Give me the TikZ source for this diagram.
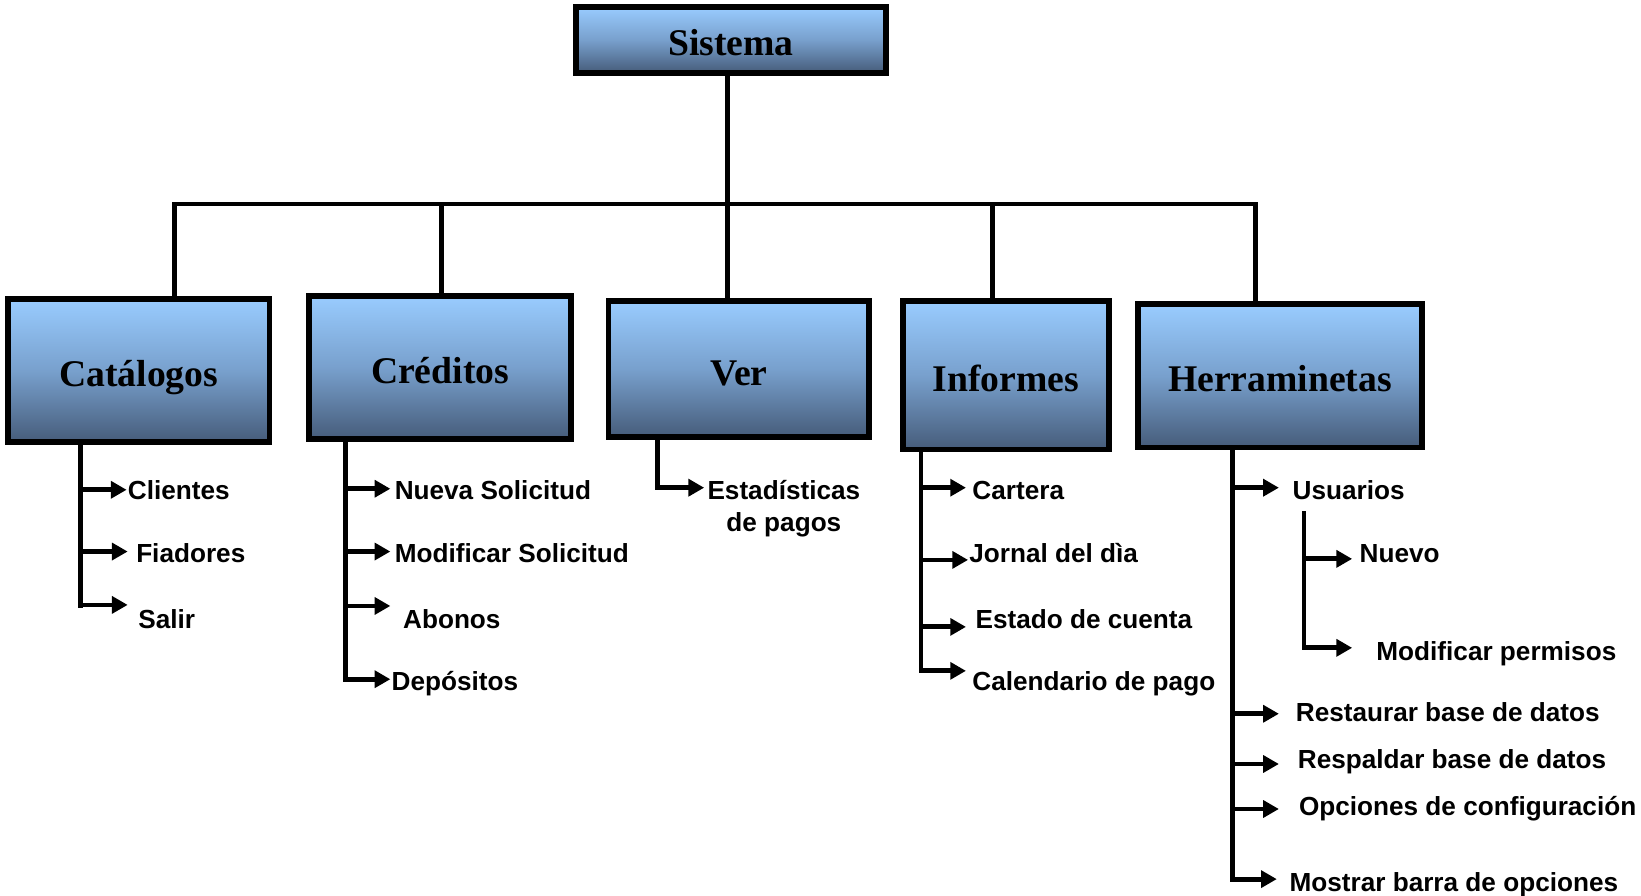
\documentclass[tikz,border=0pt]{standalone}
\usepackage{fontspec}
\setmainfont{Liberation Serif}
\newfontfamily\arialf{Liberation Sans}
\usetikzlibrary{arrows.meta}
\definecolor{btop}{RGB}{153,204,255}
\definecolor{bmid}{RGB}{120,160,205}
\definecolor{bbot}{RGB}{70,92,122}
\newcommand\mychild[7]{%
  \coordinate (#1j) at (#2,#3);
  \node[itemtxt] (#1) at (#4,#5) {#7};
  \draw[arr, shorten >=#6pt] (#1j) -- (#1j -| #1.west);
}
\begin{document}
\begin{tikzpicture}[x=1pt,y=-1pt,
  boxnode/.style={draw=black, line width=5.5pt, top color=btop, bottom color=bbot, middle color=bmid,
    font=\bfseries\fontsize{36}{40}\selectfont, inner sep=0pt, text height=31pt, text depth=0pt},
  ln/.style={line width=4.6pt, line cap=rect},
  arr/.style={line width=4.6pt, -{Triangle[length=15pt,width=16pt]}},
  itemtxt/.style={font=\arialf\bfseries\fontsize{25}{30}\selectfont, anchor=west, inner sep=0pt,
    text height=18pt, text depth=0pt}]
\useasboundingbox (0,0) rectangle (1568,856);

% boxes
\node[boxnode, minimum width=296pt, minimum height=63pt] (sis) at (698.5,38) {Sistema};
\node[boxnode, minimum width=250pt, minimum height=137pt] (cat) at (132.5,354) {Catálogos};
\node[boxnode, minimum width=250pt, minimum height=137pt] (cre) at (420.5,351) {Créditos};
\node[boxnode, minimum width=249pt, minimum height=130pt] (ver) at (706,352.5) {Ver};
\node[boxnode, minimum width=197pt, minimum height=142pt] (inf) at (961,358.5) {Informes};
\node[boxnode, minimum width=271pt, minimum height=137pt] (her) at (1223,359) {Herraminetas};

% top tree
\coordinate (d1) at (167,195);
\coordinate (d2) at (422,195);
\coordinate (d3) at (695,195);
\coordinate (d4) at (948,195);
\coordinate (d5) at (1200,195);
\draw[ln] (sis.south -| d3) -- (d3);
\draw[ln] (d1 |- cat.north) -- (d1) -- (d5) -- (d5 |- her.north);
\draw[ln] (d2) -- (d2 |- cre.north);
\draw[ln] (d3) -- (d3 |- ver.north);
\draw[ln] (d4) -- (d4 |- inf.north);

% Catalogos
\coordinate (catv) at (77,579);
\draw[ln] (cat.south -| catv) -- (catv);
\mychild{cli}{77}{468}{122}{468}{1}{Clientes}
\mychild{fia}{77}{527}{130}{528}{8}{Fiadores}
\mychild{sal}{77}{578}{132}{592}{10}{Salir}

% Creditos
\coordinate (crev) at (330,649);
\draw[ln] (cre.south -| crev) -- (crev);
\mychild{nue}{330}{467}{377}{468}{4}{Nueva Solicitud}
\mychild{mod}{330}{527}{377}{528}{4}{Modificar Solicitud}
\mychild{abo}{330}{579}{385}{592}{12}{Abonos}
\mychild{dep}{330}{649}{374}{651}{1}{Depósitos}

% Ver
\coordinate (verv) at (628,466);
\node[font=\arialf\bfseries\fontsize{25}{30}\selectfont, align=center, anchor=north, inner sep=0pt] (est) at (749,459) {Estadísticas\\de pagos};
\draw[ln] (ver.south -| verv) -- (verv);
\draw[arr, shorten >=3pt] (verv) -- (verv -| est.west);

% Informes
\coordinate (infv) at (880,641);
\draw[ln] (inf.south -| infv) -- (infv);
\mychild{car}{880}{466}{929}{468}{6}{Cartera}
\mychild{jor}{880}{535}{926}{528}{1}{Jornal del dìa}
\mychild{esc}{880}{599}{932}{592}{9}{Estado de cuenta}
\mychild{cal}{880}{641}{929}{651}{6}{Calendario de pago}

% Herramientas
\coordinate (herv) at (1178,840);
\draw[ln] (her.south -| herv) -- (herv);
\mychild{usu}{1178}{466}{1235}{468}{13}{Usuarios}
\coordinate (usv1) at (1246,491);
\coordinate (usv2) at (1246,619);
\draw[ln] (usv1) -- (usv2);
\mychild{nvo}{1246}{534}{1299}{528}{7}{Nuevo}
\mychild{mpe}{1246}{619}{1315}{622}{23}{Modificar permisos}
\mychild{res}{1178}{682}{1238}{680}{16}{Restaurar base de datos}
\mychild{rsp}{1178}{730}{1240}{725}{18}{Respaldar base de datos}
\mychild{opc}{1178}{773}{1241}{770}{19}{Opciones de configuración}
\mychild{mos}{1178}{840}{1232}{843}{12}{Mostrar barra de opciones}
\end{tikzpicture}
\end{document}
